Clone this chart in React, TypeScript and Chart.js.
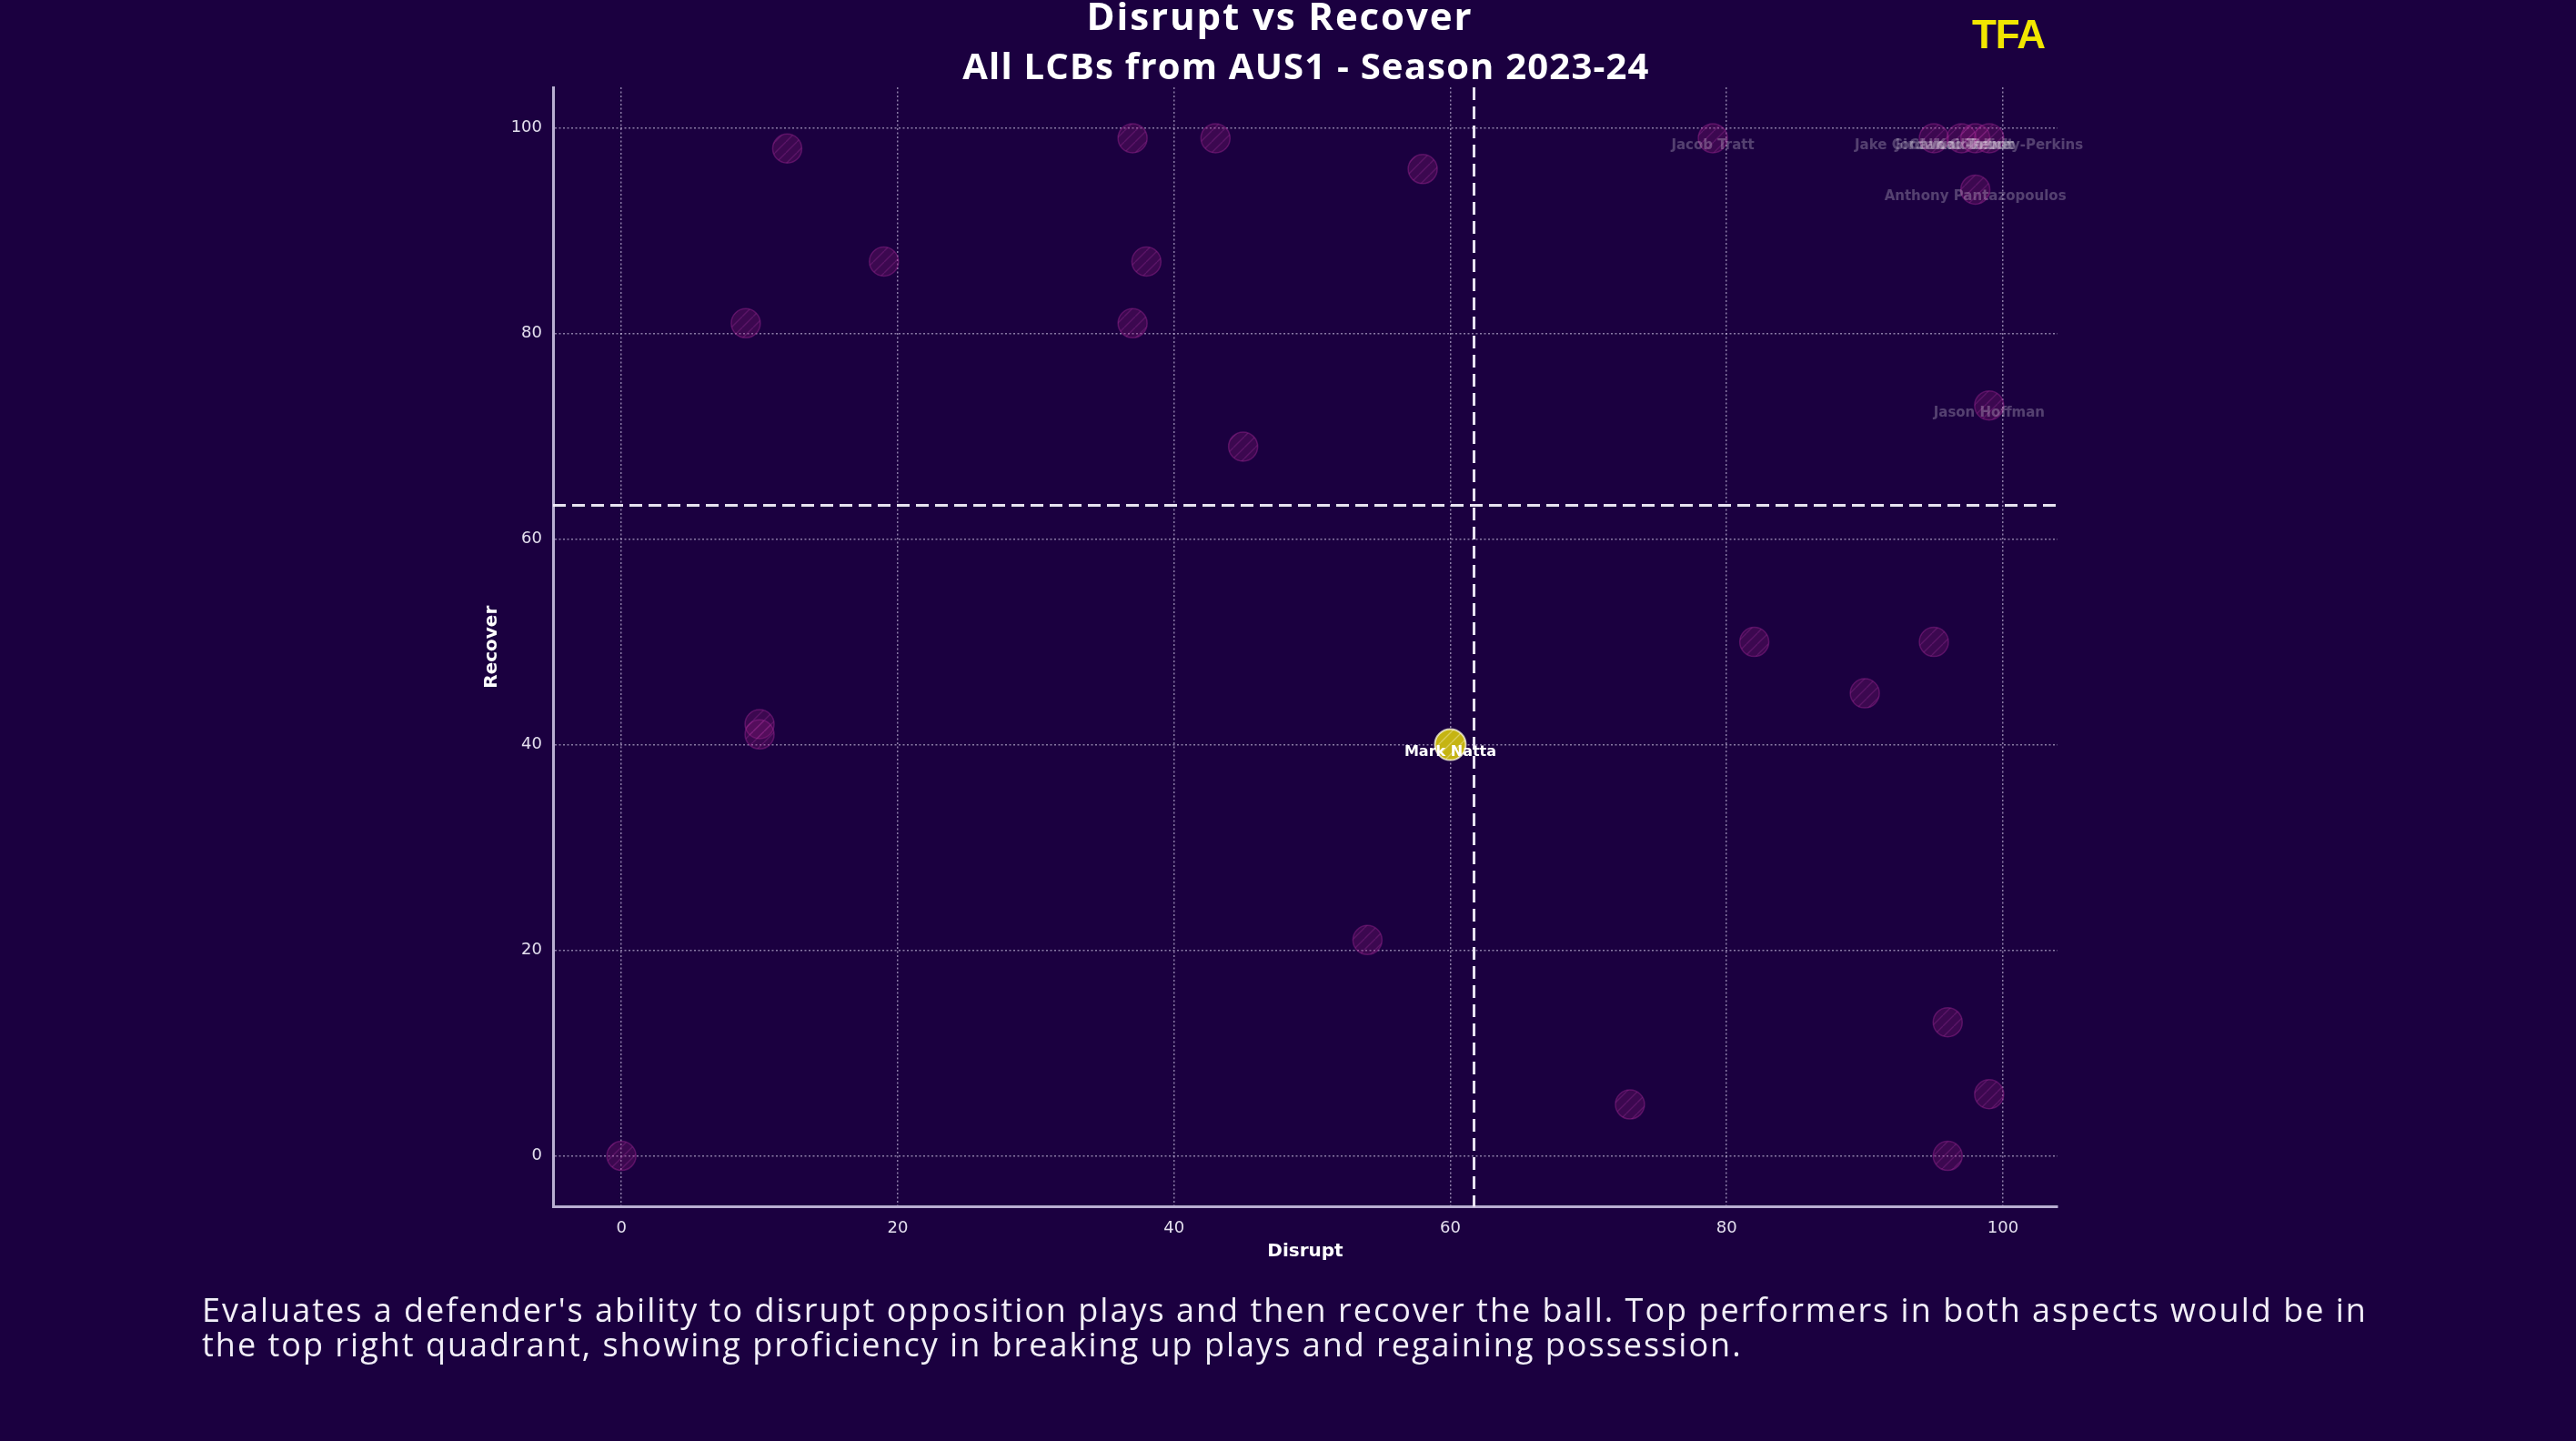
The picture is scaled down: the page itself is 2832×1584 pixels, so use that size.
import React, { useEffect, useRef } from 'react';
import { Chart, registerables } from 'chart.js';

Chart.register(...registerables);

// ---------------- data ----------------
const DISRUPT = [0, 12, 9, 19, 10, 10, 37, 43, 38, 37, 45, 58, 54, 73, 82, 90, 95, 96, 99, 96, 79, 95, 97, 98, 99, 98, 99];
const RECOVER = [0, 98, 81, 87, 42, 41, 99, 99, 87, 81, 69, 96, 21, 5, 50, 45, 50, 13, 6, 0, 99, 99, 99, 99, 99, 94, 73];
const NAMES = [
  '', '', '', '', '', '', '', '', '', '', '', '', '', '', '', '', '', '', '', '',
  'Jacob Tratt', 'Jake Girdwood-Reich', 'Callum Talbot', 'Kai Trewin', 'Jordan Courtney-Perkins',
  'Anthony Pantazopoulos', 'Jason Hoffman',
];
const HIGHLIGHT_NAMES = ['Mark Natta'];
const HIGHLIGHT_DISRUPT = [60];
const HIGHLIGHT_RECOVER = [40];
const X_TICKS = [0, 20, 40, 60, 80, 100];
const Y_TICKS = [0, 20, 40, 60, 80, 100];
const AXIS_MIN = -4.95;
const AXIS_MAX = 103.95;

const ALL_X = [...DISRUPT, ...HIGHLIGHT_DISRUPT];
const ALL_Y = [...RECOVER, ...HIGHLIGHT_RECOVER];
const MEAN_DISRUPT = ALL_X.reduce((a, b) => a + b, 0) / ALL_X.length;
const MEAN_RECOVER = ALL_Y.reduce((a, b) => a + b, 0) / ALL_Y.length;

const TITLE = 'Disrupt vs Recover';
const SUBTITLE = 'All LCBs from AUS1 - Season 2023-24';
const X_LABEL = 'Disrupt';
const Y_LABEL = 'Recover';
const DESCRIPTION_LINES = [
  "Evaluates a defender's ability to disrupt opposition plays and then recover the ball. Top performers in both aspects would be in",
  'the top right quadrant, showing proficiency in breaking up plays and regaining possession.',
];

// ---------------- style ----------------
const BG = '#1b0040';
const GRID = 'rgba(215,205,235,0.6)';
const SPINE = '#b9aed2';
const TICK = '#e4dfee';

function makeHatch(base: string, line: string, size = 12): CanvasPattern | string {
  const c = document.createElement('canvas');
  c.width = size;
  c.height = size;
  const g = c.getContext('2d');
  if (!g) return base;
  g.fillStyle = base;
  g.fillRect(0, 0, size, size);
  g.strokeStyle = line;
  g.lineWidth = 1.4;
  g.beginPath();
  for (const x0 of [-size, 0, size]) {
    g.moveTo(x0, size);
    g.lineTo(x0 + size, 0);
  }
  g.stroke();
  const p = g.createPattern(c, 'repeat');
  return p || base;
}

const overlayPlugin = {
  id: 'overlay',
  afterDatasetsDraw(chart: any) {
    const { ctx, chartArea, scales } = chart;
    const xs = scales.x;
    const ys = scales.y;
    ctx.save();
    // mean lines
    ctx.strokeStyle = 'rgba(242,238,250,0.95)';
    ctx.lineWidth = 3;
    ctx.setLineDash([14, 7]);
    const mx = xs.getPixelForValue(MEAN_DISRUPT);
    ctx.beginPath();
    ctx.moveTo(mx, chartArea.top);
    ctx.lineTo(mx, chartArea.bottom);
    ctx.stroke();
    const my = ys.getPixelForValue(MEAN_RECOVER);
    ctx.beginPath();
    ctx.moveTo(chartArea.left, my);
    ctx.lineTo(chartArea.right, my);
    ctx.stroke();
    ctx.setLineDash([]);

    // point labels
    ctx.font = 'bold 15px "DejaVu Sans"';
    ctx.textAlign = 'center';
    ctx.textBaseline = 'middle';
    const meta = chart.getDatasetMeta(1);
    meta.data.forEach((pt: any, i: number) => {
      const name = NAMES[i];
      if (!name) return;
      ctx.fillStyle = 'rgba(255,255,255,0.25)';
      ctx.fillText(name, pt.x, pt.y + 8);
    });
    ctx.font = 'bold 16px "DejaVu Sans"';
    const hmeta = chart.getDatasetMeta(0);
    hmeta.data.forEach((pt: any, i: number) => {
      ctx.fillStyle = '#ffffff';
      ctx.fillText(HIGHLIGHT_NAMES[i], pt.x, pt.y + 8);
    });

    // axis titles
    ctx.font = 'bold 20px "DejaVu Sans"';
    ctx.fillStyle = '#ffffff';
    ctx.fillText(X_LABEL, (chartArea.left + chartArea.right) / 2, chartArea.bottom + 49);
    ctx.translate(chartArea.left - 67, (chartArea.top + chartArea.bottom) / 2);
    ctx.rotate(-Math.PI / 2);
    ctx.fillText(Y_LABEL, 0, 0);
    ctx.restore();
  },
};

export default function App() {
  const ref = useRef<HTMLCanvasElement | null>(null);

  useEffect(() => {
    document.body.style.margin = '0';
    document.body.style.background = BG;
    document.body.style.overflow = 'hidden';
    const canvas = ref.current;
    if (!canvas) return;

    const otherFill = makeHatch('rgba(140,25,120,0.3)', 'rgba(200,70,180,0.22)');
    const highFill = makeHatch('#c5b412', '#d9cc5a');

    const chart = new Chart(canvas, {
      type: 'scatter',
      data: {
        datasets: [
          {
            label: 'highlight',
            order: 0,
            data: HIGHLIGHT_DISRUPT.map((x, i) => ({ x, y: HIGHLIGHT_RECOVER[i] })),
            backgroundColor: highFill as any,
            borderColor: 'rgba(255,252,225,0.75)',
            borderWidth: 2,
            pointRadius: 17,
          },
          {
            label: 'players',
            order: 1,
            data: DISRUPT.map((x, i) => ({ x, y: RECOVER[i] })),
            backgroundColor: otherFill as any,
            borderColor: 'rgba(165,40,150,0.4)',
            borderWidth: 1.5,
            pointRadius: 16,
          },
        ],
      },
      options: {
        animation: false,
        responsive: false,
        devicePixelRatio: 1,
        events: [],
        layout: { padding: { left: 508, right: 570, top: 96, bottom: 206 } },
        plugins: {
          legend: { display: false },
          tooltip: { enabled: false },
          title: { display: false },
        },
        scales: {
          x: {
            type: 'linear',
            min: AXIS_MIN,
            max: AXIS_MAX,
            afterFit: (s: any) => {
              s.height = 51.5;
            },
            afterBuildTicks: (s: any) => {
              s.ticks = X_TICKS.map((v) => ({ value: v }));
            },
            grid: { color: GRID, lineWidth: 1.5, drawTicks: false },
            border: { display: true, color: SPINE, width: 3, dash: [2, 2.5] },
            ticks: {
              color: TICK,
              font: { family: '"DejaVu Sans"', size: 18 },
              padding: 13,
              maxRotation: 0,
              callback: (v: any) => String(v),
            },
          },
          y: {
            type: 'linear',
            min: AXIS_MIN,
            max: AXIS_MAX,
            afterFit: (s: any) => {
              s.width = 100;
            },
            afterBuildTicks: (s: any) => {
              s.ticks = Y_TICKS.map((v) => ({ value: v }));
            },
            grid: { color: GRID, lineWidth: 1.5, drawTicks: false },
            border: { display: true, color: SPINE, width: 3, dash: [2, 2.5] },
            ticks: {
              color: TICK,
              font: { family: '"DejaVu Sans"', size: 18 },
              padding: 12,
              callback: (v: any) => String(v),
            },
          },
        },
      },
      plugins: [overlayPlugin],
    } as any);

    return () => {
      chart.destroy();
    };
  }, []);

  const abs: React.CSSProperties = { position: 'absolute', whiteSpace: 'nowrap', lineHeight: 1 };

  return (
    <div style={{ position: 'absolute', left: 0, top: 0, width: 2832, height: 1584, background: BG, overflow: 'hidden' }}>
      <canvas ref={ref} width={2832} height={1584} style={{ position: 'absolute', left: 0, top: 0, width: 2832, height: 1584 }} />
      <div style={{ ...abs, left: 1407, top: 16, transform: 'translate(-50%,-50%)', font: 'bold 42px "Open Sans"', letterSpacing: 1.9, color: '#ffffff' }}>{TITLE}</div>
      <div style={{ ...abs, left: 1436, top: 71, transform: 'translate(-50%,-50%)', font: 'bold 40px "Open Sans"', letterSpacing: 1.2, color: '#ffffff' }}>{SUBTITLE}</div>
      <div style={{ ...abs, left: 2208, top: 38, transform: 'translate(-50%,-50%)', font: 'bold 44px "Liberation Sans"', color: '#f2e600', letterSpacing: -1 }}>TFA</div>
      <div style={{ position: 'absolute', left: 222, top: 1421, font: '36px "Open Sans"', letterSpacing: 2, lineHeight: '38px', color: '#f2eef8', whiteSpace: 'nowrap' }}>
        {DESCRIPTION_LINES.map((l, i) => (
          <div key={i}>{l}</div>
        ))}
      </div>
    </div>
  );
}
